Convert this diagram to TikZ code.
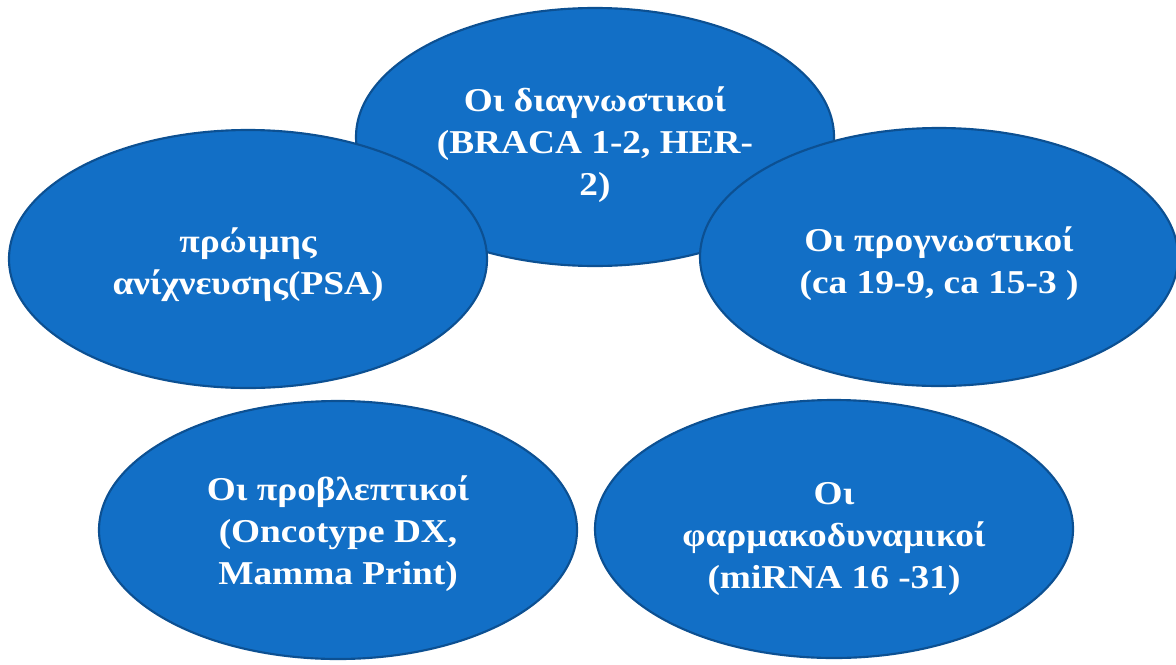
\documentclass[tikz,border=0pt]{standalone}
\usepackage{fontspec}
\setmainfont{Liberation Serif}
\newfontfamily\ovalfont[FakeStretch=1.12]{Liberation Serif}
\usetikzlibrary{shapes.geometric}
\definecolor{ellfill}{RGB}{18,111,198}
\definecolor{elldraw}{RGB}{12,80,146}
\begin{document}
\begin{tikzpicture}[x=0.75pt,y=-0.75pt,
  oval/.style={ellipse, fill=ellfill, draw=elldraw, line width=1.6pt,
    minimum width=358.5pt, minimum height=193.5pt, inner sep=0pt},
  ovaltext/.style={text=white, align=center, inner sep=0pt,
    font=\ovalfont\fontsize{25}{31.5}\selectfont\bfseries}]
\useasboundingbox (0,0) rectangle (1176,664);
\node[oval] (diag) at (595,137) {};
\node[ovaltext] (diagT) at ([yshift=-6pt]diag.center) {Οι διαγνωστικοί\\(BRACA 1-2, HER-\\2)};
\node[oval] (early) at (248,259) {};
\node[ovaltext] (earlyT) at ([yshift=-4pt]early.center) {πρώιμης\\ανίχνευσης(PSA)};
\node[oval] (prog) at (939,257) {};
\node[ovaltext] (progT) at ([yshift=-5pt]prog.center) {Οι προγνωστικοί\\(ca 19-9, ca 15-3 )};
\node[oval] (pred) at (338,530) {};
\node[ovaltext] (predT) at ([yshift=-3pt]pred.center) {Οι προβλεπτικοί\\(Oncotype DX,\\Mamma Print)};
\node[oval] (pharm) at (834,529) {};
\node[ovaltext] (pharmT) at ([yshift=-7.5pt]pharm.center) {Οι\\φαρμακοδυναμικοί\\(miRNA 16 -31)};
\end{tikzpicture}
\end{document}
